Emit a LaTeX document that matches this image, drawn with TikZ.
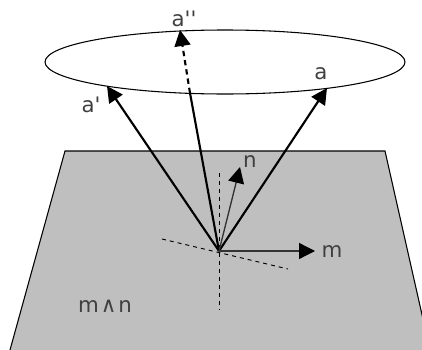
\documentclass[tikz,border=0pt]{standalone}
\usepackage{fontspec}
\newfontfamily\lblfont{DejaVu Sans}
\usetikzlibrary{
  arrows.meta,
  positioning
}

\begin{document}
\begin{tikzpicture}[
    x=0.75pt, y=-0.75pt,
    vecthick/.style={line width=1.6pt, -{Triangle[length=12pt,width=12pt]}},
    vecthin/.style={line width=1pt, black!80, -{Triangle[black,length=12pt,width=12pt]}},
    axisline/.style={dash pattern=on 3pt off 3pt, line width=0.7pt},
    veclbl/.style={font=\lblfont\fontsize{16}{18}\selectfont, text=black!75, inner sep=0pt}
  ]
  \useasboundingbox (0,0) rectangle (422,350);

  %% Plane
  \path[fill=black!25] (65,151) -- (385,151) -- (430,350) -- (10,350) -- cycle;
  \draw[line width=0.8pt] (10,350) -- (65,151) -- (385,151) -- (430,350);

  %% Circle
  \draw[line width=0.8pt] (225,62) ellipse [x radius=180, y radius=32];

  %% Points
  \coordinate (o) at (219,251);
  \coordinate (tipa) at (327,88);
  \coordinate (tipb) at (107,86);
  \coordinate (tipc) at (180,30);
  \coordinate (rim) at (190,93);
  \coordinate (tipn) at (240,167);
  \coordinate (tipm) at (315,251);
  \coordinate (vtop) at (219,173);
  \coordinate (vbot) at (219,310);
  \coordinate (sleft) at (162,239);
  \coordinate (sright) at (288,269);

  %% Axes
  \draw[axisline] (vtop) -- (vbot);
  \draw[axisline] (sleft) -- (sright);

  %% Vectors
  \draw[vecthick] (o) -- (tipa);
  \draw[vecthick] (o) -- (tipb);
  \draw[line width=1.6pt] (o) -- (rim);
  \draw[vecthick, dash pattern=on 4pt off 3pt] (rim) -- (tipc);
  \draw[vecthin] (o) -- (tipn);
  \draw[vecthin] (o) -- (tipm);

  %% Labels
  \node[veclbl] (la) at (321,74) {a};
  \node[veclbl] (lb) at (91,105) {a'};
  \node[veclbl] (lc) at (184,19) {a''};
  \node[veclbl] (ln) at (250,162) {n};
  \node[veclbl] (lm) at (332,252) {m};
  \node[veclbl] (lw) at (105,306) {m\kern1.5pt∧\kern1.5pt n};
\end{tikzpicture}
\end{document}
